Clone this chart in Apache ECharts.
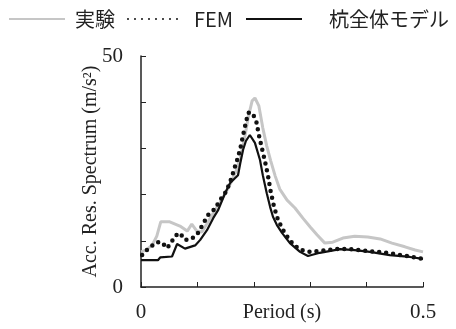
<!DOCTYPE html>
<html><head><meta charset="utf-8">
<script src="https://cdn.jsdelivr.net/npm/echarts@6/dist/echarts.min.js"></script>
<style>html,body{margin:0;padding:0;background:#fff}#c{width:456px;height:329px}</style>
</head><body><div id="c"></div>
<script>
// Period (s), value (m/s^2)
const expData = [[0,7.6],[0.009,8.0],[0.020,9.1],[0.028,11.0],[0.035,14.1],[0.051,14.1],[0.069,13.2],[0.082,12.1],[0.090,13.6],[0.099,12.1],[0.108,11.9],[0.119,14.1],[0.129,16.2],[0.140,18.2],[0.151,20.6],[0.160,22.7],[0.168,24.9],[0.176,27.9],[0.183,31.8],[0.190,36.6],[0.197,40.3],[0.202,40.9],[0.209,39.2],[0.216,34.4],[0.223,30.5],[0.230,27.3],[0.238,24.0],[0.246,21.2],[0.259,18.8],[0.273,17.1],[0.287,14.9],[0.300,13.0],[0.312,11.3],[0.326,9.5],[0.340,9.7],[0.358,10.6],[0.379,11.0],[0.402,10.8],[0.424,10.4],[0.445,9.5],[0.468,8.7],[0.486,8.0],[0.5,7.6]];
const femData = [[0.002,6.9],[0.012,8.2],[0.028,9.7],[0.037,9.7],[0.046,8.4],[0.053,9.5],[0.060,11.0],[0.069,11.7],[0.078,10.2],[0.090,10.4],[0.101,11.7],[0.108,13.2],[0.119,15.6],[0.131,16.9],[0.140,18.8],[0.149,20.3],[0.156,22.1],[0.161,23.8],[0.167,26.2],[0.172,28.1],[0.177,30.5],[0.183,34.0],[0.190,37.7],[0.197,37.7],[0.204,36.1],[0.209,32.9],[0.215,29.7],[0.220,27.1],[0.225,24.2],[0.230,20.6],[0.236,17.3],[0.243,14.5],[0.252,12.3],[0.261,10.6],[0.271,9.1],[0.284,8.0],[0.300,7.6],[0.317,7.8],[0.344,8.2],[0.371,8.2],[0.401,7.8],[0.436,7.4],[0.472,6.7],[0.5,6.1]];
const pileData = [[0,5.8],[0.030,5.8],[0.034,6.4],[0.055,6.6],[0.064,9.3],[0.078,8.3],[0.096,9.0],[0.105,10.2],[0.117,12.3],[0.128,14.9],[0.137,16.7],[0.149,20.3],[0.158,22.5],[0.167,23.6],[0.172,24.2],[0.176,26.8],[0.181,29.7],[0.186,31.6],[0.193,32.9],[0.202,31.2],[0.211,27.5],[0.216,24.2],[0.223,20.3],[0.229,17.3],[0.234,15.2],[0.241,13.4],[0.250,11.7],[0.264,9.5],[0.282,7.6],[0.296,6.7],[0.317,7.4],[0.353,8.2],[0.379,8.0],[0.406,7.6],[0.441,6.9],[0.477,6.5],[0.5,6.1]];
const seriesNames = ['実験', 'FEM', '杭全体モデル'];
const xTickLabels = ['0', '0.5'];
const yTickLabels = ['0', '50'];

const serif = '"Liberation Serif", "DejaVu Serif", serif';
const jp = '"Noto Sans CJK JP", "Noto Sans", sans-serif';
const legendCommon = {top: 4, itemWidth: 56, itemHeight: 14,
  itemStyle: {opacity: 0},
  textStyle: {fontFamily: jp, fontSize: 20, color: '#222', padding: [0,0,0,5]}};
const chart = echarts.init(document.getElementById('c'));
chart.setOption({
  animation: false,
  legend: [
    Object.assign({data: [seriesNames[0]], left: 3}, legendCommon),
    Object.assign({data: [seriesNames[1]], left: 122}, legendCommon),
    Object.assign({data: [seriesNames[2]], left: 240}, legendCommon, {textStyle: Object.assign({}, legendCommon.textStyle, {padding: [0,0,0,22]})})
  ],
  grid: {left: 141, right: 33, top: 56, bottom: 42, containLabel: false, outerBoundsMode: 'none'},
  xAxis: {
    type: 'value', min: 0, max: 0.5, interval: 0.1, position: 'bottom',
    name: 'Period (s)', nameLocation: 'middle', nameGap: 16, nameMoveOverlap: false,
    nameTextStyle: {fontFamily: serif, fontSize: 20, color: '#222'},
    axisLine: {show: true, onZero: false, lineStyle: {color: '#222', width: 1.5}},
    axisTick: {show: true, inside: true, length: 5, lineStyle: {color: '#222'}},
    splitLine: {show: false},
    axisLabel: {margin: 15, fontFamily: serif, fontSize: 21, color: '#222',
      formatter: v => (Math.abs(v) < 1e-9 ? xTickLabels[0] : (Math.abs(v - 0.5) < 1e-9 ? xTickLabels[1] : ''))}
  },
  yAxis: {
    type: 'value', min: 0, max: 50, interval: 10,
    name: 'Acc. Res. Spectrum (m/s²)', nameLocation: 'middle', nameGap: 40, nameMoveOverlap: false,
    nameTextStyle: {fontFamily: serif, fontSize: 20, color: '#222'},
    axisLine: {show: true, onZero: false, lineStyle: {color: '#222', width: 1.5}},
    axisTick: {show: true, inside: true, length: 5, lineStyle: {color: '#222'}},
    splitLine: {show: false},
    axisLabel: {margin: 18, fontFamily: serif, fontSize: 21, color: '#222',
      formatter: v => (v === 0 ? yTickLabels[0] : (v === 50 ? yTickLabels[1] : ''))}
  },
  series: [
    {name: seriesNames[0], type: 'line', data: expData, symbol: 'none', z: 1,
      lineStyle: {color: '#c6c6c6', width: 3}, itemStyle: {color: '#c6c6c6'}},
    {name: seriesNames[1], type: 'line', data: femData, symbol: 'none', z: 3,
      lineStyle: {color: '#111', width: 4.5, type: [0, 7], cap: 'round'}, itemStyle: {color: '#111'}},
    {name: seriesNames[2], type: 'line', data: pileData, symbol: 'none', z: 2,
      lineStyle: {color: '#111', width: 2.2}, itemStyle: {color: '#111'}}
  ]
});
</script></body></html>
